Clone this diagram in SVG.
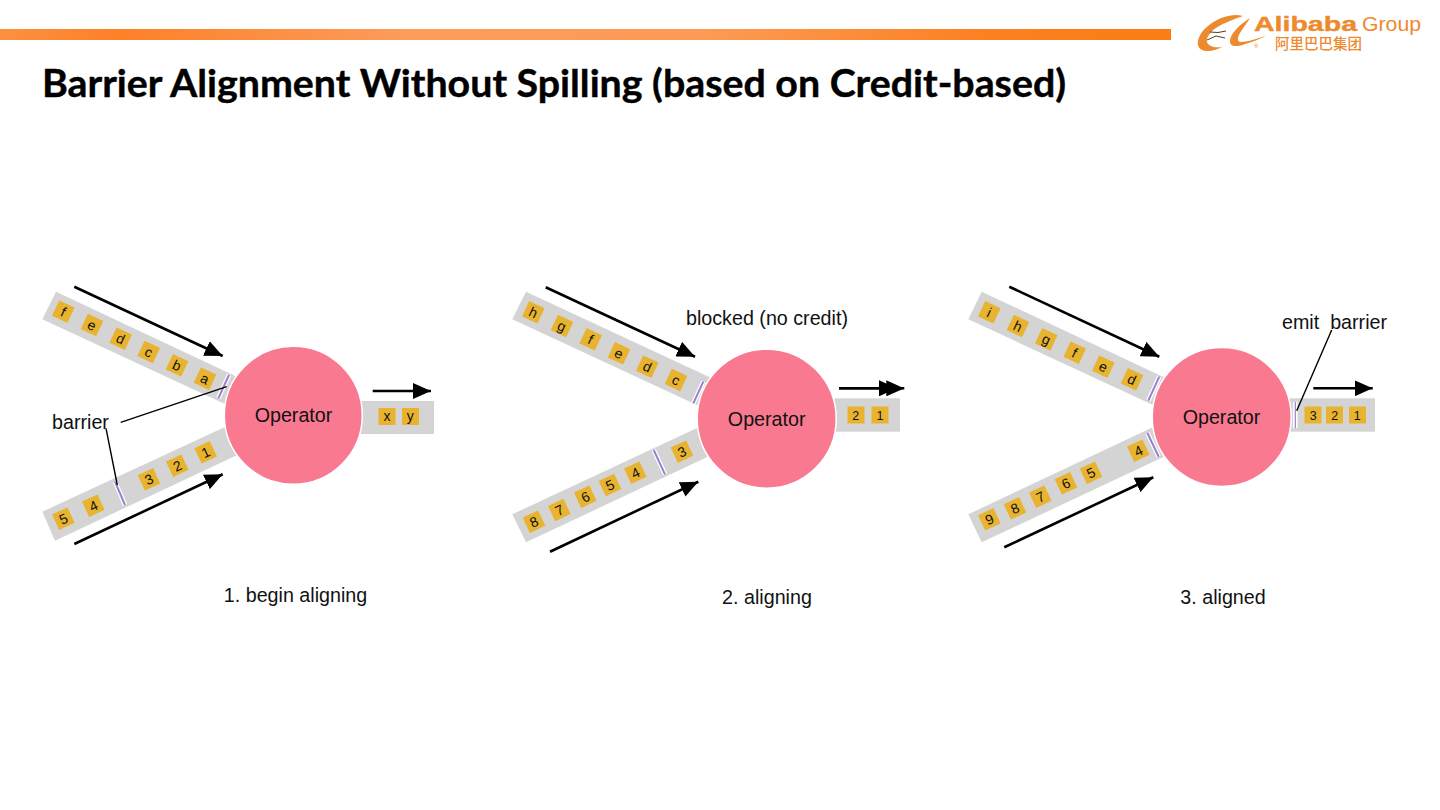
<svg xmlns="http://www.w3.org/2000/svg" width="1440" height="810" viewBox="0 0 1440 810">
<style>
text{font-family:"Liberation Sans",Arial,sans-serif;fill:#111}
.lb{font-size:19.7px}
.it{font-size:14px;text-anchor:middle}
.sm{font-size:12.5px;text-anchor:middle}
.band{fill:#d4d4d4}
.sq{fill:#e8b32f}
.op{fill:#f97a90;stroke:#fff;stroke-width:1.5}
.ha{stroke:#fff;stroke-width:4.5;fill:none}
.ba{stroke:#9a7fd0;stroke-width:2;fill:none}
.ar{stroke:#000;stroke-width:2.6;fill:none;marker-end:url(#h)}
.ln{stroke:#000;stroke-width:1.4;fill:none}
.lo{fill:#ee8a2e}
.lt{fill:#ee8a2e}
</style>
<defs>
<marker id="h" markerUnits="userSpaceOnUse" markerWidth="18" markerHeight="16" refX="18" refY="8" orient="auto"><path d="M0 0L18 8L0 16z" fill="#000"/></marker>
<linearGradient id="bar" x1="0" x2="1" y1="0" y2="0"><stop offset="0" stop-color="#fd9040"/><stop offset=".1" stop-color="#fc8128"/><stop offset=".35" stop-color="#fd9c5c"/><stop offset=".6" stop-color="#fd9a55"/><stop offset=".85" stop-color="#fb8020"/><stop offset="1" stop-color="#fb7e14"/></linearGradient>
</defs>
<rect id="topbar" x="0" y="29" width="1171" height="11" fill="url(#bar)"/>
<g id="logo">
<path class="lo" d="M1243 16C1228 12 1210 22 1202 32C1195 42 1197 50 1206 51C1212 51.500 1218 49 1222 47C1214 48 1208 46 1207 42C1206 38 1209 35 1212 31C1220 24 1232 20 1243 16Z"/>
<path class="lo" d="M1250 18C1240 24 1230 34 1230 41C1230 47 1236 47 1244 44.500C1252 42 1260 39 1266 36C1256 39 1246 42 1241 42C1237 42 1237 38 1240 33C1243 28 1247 23 1250 18Z"/>
<path d="M1210 32L1218 32.500L1226 31M1207 40L1216 36L1225 38" fill="none" stroke="#5a3a1c" stroke-width="1"/>
<text class="lt" x="1254" y="31" font-size="21" font-weight="700" textLength="103" lengthAdjust="spacingAndGlyphs" stroke="#ee8a2e" stroke-width=".4">Alibaba</text>
<text class="lt" x="1362" y="31" font-size="20" textLength="59" lengthAdjust="spacingAndGlyphs">Group</text>
<text class="lt" x="1254" y="48" font-size="6">®</text>
<text class="lt" x="1275" y="49" font-size="14.500" style="font-family:'Noto Sans CJK SC',sans-serif" font-weight="500">阿里巴巴集团</text>
</g>
<text id="title" x="42" y="97" font-size="38" font-weight="700" textLength="1024" lengthAdjust="spacingAndGlyphs" stroke="#000" stroke-width=".4" style="font-family:Lato,'Open Sans',sans-serif;fill:#000">Barrier Alignment Without Spilling (based on Credit-based)</text>

<g id="panel1">
<polygon class="band" points="56,291.700 42.300,319.300 240,411 248,382"/>
<polygon class="band" points="42.300,511.700 55,540.700 250,449 240,420"/>
<rect class="band" x="350" y="401" width="84" height="33"/>
<g id="op1"><circle class="op" cx="293.300" cy="415.300" r="69"/><text class="lb" x="293.500" y="422" text-anchor="middle">Operator</text></g>
<g id="items1a">
<g transform="translate(63.300 311.700) rotate(25)"><rect class="sq" x="-8.500" y="-8.500" width="17" height="17"/><text class="it" y="5">f</text></g>
<g transform="translate(92 325) rotate(25)"><rect class="sq" x="-8.500" y="-8.500" width="17" height="17"/><text class="it" y="5">e</text></g>
<g transform="translate(120.700 338.700) rotate(25)"><rect class="sq" x="-8.500" y="-8.500" width="17" height="17"/><text class="it" y="5">d</text></g>
<g transform="translate(148.700 352) rotate(25)"><rect class="sq" x="-8.500" y="-8.500" width="17" height="17"/><text class="it" y="5">c</text></g>
<g transform="translate(177 365.300) rotate(25)"><rect class="sq" x="-8.500" y="-8.500" width="17" height="17"/><text class="it" y="5">b</text></g>
<g transform="translate(205 378.700) rotate(25)"><rect class="sq" x="-8.500" y="-8.500" width="17" height="17"/><text class="it" y="5">a</text></g>
</g>
<g id="items1b">
<g transform="translate(63.300 518.700) rotate(-25)"><rect class="sq" x="-8.500" y="-8.500" width="17" height="17"/><text class="it" y="5">5</text></g>
<g transform="translate(93.300 505.700) rotate(-25)"><rect class="sq" x="-8.500" y="-8.500" width="17" height="17"/><text class="it" y="5">4</text></g>
<g transform="translate(149 479.300) rotate(-25)"><rect class="sq" x="-8.500" y="-8.500" width="17" height="17"/><text class="it" y="5">3</text></g>
<g transform="translate(177.300 465.700) rotate(-25)"><rect class="sq" x="-8.500" y="-8.500" width="17" height="17"/><text class="it" y="5">2</text></g>
<g transform="translate(205.700 452.300) rotate(-25)"><rect class="sq" x="-8.500" y="-8.500" width="17" height="17"/><text class="it" y="5">1</text></g>
</g>
<g id="items1c">
<rect class="sq" x="378.500" y="408" width="17" height="17"/><text class="it" x="387" y="421">x</text>
<rect class="sq" x="402" y="408" width="17" height="17"/><text class="it" x="410.300" y="421">y</text>
</g>
<text class="lb" x="52" y="429">barrier</text>
<text class="lb" x="295.500" y="602" text-anchor="middle">1. begin aligning</text>
</g>

<g id="panel2">
<polygon class="band" points="526,291.700 512.300,319.300 712,412 720,382"/>
<polygon class="band" points="512.300,514.300 526,542.300 720,451 712,421"/>
<rect class="band" x="825" y="398.300" width="75" height="33.400"/>
<g id="op2"><circle class="op" cx="766.700" cy="418.700" r="69.500"/><text class="lb" x="766.700" y="425.500" text-anchor="middle">Operator</text></g>
<g id="items2a">
<g transform="translate(533.300 312.300) rotate(25)"><rect class="sq" x="-8.500" y="-8.500" width="17" height="17"/><text class="it" y="5">h</text></g>
<g transform="translate(562 326) rotate(25)"><rect class="sq" x="-8.500" y="-8.500" width="17" height="17"/><text class="it" y="5">g</text></g>
<g transform="translate(590.700 339.300) rotate(25)"><rect class="sq" x="-8.500" y="-8.500" width="17" height="17"/><text class="it" y="5">f</text></g>
<g transform="translate(619 353.300) rotate(25)"><rect class="sq" x="-8.500" y="-8.500" width="17" height="17"/><text class="it" y="5">e</text></g>
<g transform="translate(647.300 366.700) rotate(25)"><rect class="sq" x="-8.500" y="-8.500" width="17" height="17"/><text class="it" y="5">d</text></g>
<g transform="translate(676 380) rotate(25)"><rect class="sq" x="-8.500" y="-8.500" width="17" height="17"/><text class="it" y="5">c</text></g>
</g>
<g id="items2b">
<g transform="translate(534 521.700) rotate(-25)"><rect class="sq" x="-8.500" y="-8.500" width="17" height="17"/><text class="it" y="5">8</text></g>
<g transform="translate(559.300 510) rotate(-25)"><rect class="sq" x="-8.500" y="-8.500" width="17" height="17"/><text class="it" y="5">7</text></g>
<g transform="translate(585.300 496.700) rotate(-25)"><rect class="sq" x="-8.500" y="-8.500" width="17" height="17"/><text class="it" y="5">6</text></g>
<g transform="translate(610 485) rotate(-25)"><rect class="sq" x="-8.500" y="-8.500" width="17" height="17"/><text class="it" y="5">5</text></g>
<g transform="translate(635.300 472.700) rotate(-25)"><rect class="sq" x="-8.500" y="-8.500" width="17" height="17"/><text class="it" y="5">4</text></g>
<g transform="translate(682 451.700) rotate(-25)"><rect class="sq" x="-8.500" y="-8.500" width="17" height="17"/><text class="it" y="5">3</text></g>
</g>
<g id="items2c">
<rect class="sq" x="847.500" y="406.500" width="17" height="17"/><text class="sm" x="855.700" y="419.500">2</text>
<rect class="sq" x="871.500" y="406.500" width="17" height="17"/><text class="sm" x="880" y="419.500">1</text>
</g>
<text class="lb" x="686" y="325">blocked (no credit)</text>
<text class="lb" x="767" y="604" text-anchor="middle">2. aligning</text>
</g>

<g id="panel3">
<polygon class="band" points="981.700,291.700 968.300,319.300 1166,411 1174,382"/>
<polygon class="band" points="968.300,514.300 981.700,542.300 1174,452 1166,421"/>
<rect class="band" x="1280" y="398.300" width="95" height="33.400"/>
<g id="op3"><circle class="op" cx="1221.700" cy="417" r="69.500"/><text class="lb" x="1221.500" y="424" text-anchor="middle">Operator</text></g>
<g id="items3a">
<g transform="translate(989.300 312.300) rotate(25)"><rect class="sq" x="-8.500" y="-8.500" width="17" height="17"/><text class="it" y="5">i</text></g>
<g transform="translate(1018 326) rotate(25)"><rect class="sq" x="-8.500" y="-8.500" width="17" height="17"/><text class="it" y="5">h</text></g>
<g transform="translate(1046.300 339.300) rotate(25)"><rect class="sq" x="-8.500" y="-8.500" width="17" height="17"/><text class="it" y="5">g</text></g>
<g transform="translate(1074.700 352.700) rotate(25)"><rect class="sq" x="-8.500" y="-8.500" width="17" height="17"/><text class="it" y="5">f</text></g>
<g transform="translate(1103.300 366.700) rotate(25)"><rect class="sq" x="-8.500" y="-8.500" width="17" height="17"/><text class="it" y="5">e</text></g>
<g transform="translate(1132 379.300) rotate(25)"><rect class="sq" x="-8.500" y="-8.500" width="17" height="17"/><text class="it" y="5">d</text></g>
</g>
<g id="items3b">
<g transform="translate(989.300 519.300) rotate(-25)"><rect class="sq" x="-8.500" y="-8.500" width="17" height="17"/><text class="it" y="5">9</text></g>
<g transform="translate(1015 508.300) rotate(-25)"><rect class="sq" x="-8.500" y="-8.500" width="17" height="17"/><text class="it" y="5">8</text></g>
<g transform="translate(1040.300 496.700) rotate(-25)"><rect class="sq" x="-8.500" y="-8.500" width="17" height="17"/><text class="it" y="5">7</text></g>
<g transform="translate(1066 483.300) rotate(-25)"><rect class="sq" x="-8.500" y="-8.500" width="17" height="17"/><text class="it" y="5">6</text></g>
<g transform="translate(1091 472.700) rotate(-25)"><rect class="sq" x="-8.500" y="-8.500" width="17" height="17"/><text class="it" y="5">5</text></g>
<g transform="translate(1138.300 450.700) rotate(-25)"><rect class="sq" x="-8.500" y="-8.500" width="17" height="17"/><text class="it" y="5">4</text></g>
</g>
<g id="items3c">
<rect class="sq" x="1304.500" y="406.500" width="17" height="17"/><text class="sm" x="1313.300" y="419.500">3</text>
<rect class="sq" x="1326" y="406.500" width="17" height="17"/><text class="sm" x="1334.700" y="419.500">2</text>
<rect class="sq" x="1349" y="406.500" width="17" height="17"/><text class="sm" x="1357.300" y="419.500">1</text>
</g>
<text class="lb" x="1282" y="328.500" xml:space="preserve">emit  barrier</text>
<text class="lb" x="1223" y="604" text-anchor="middle">3. aligned</text>
</g>

<g id="connectors">
<path class="ha" d="M229 375L218.300 398.300M115 481.700L125 505M703.300 381.700L693.300 403.300M653.700 450L665 474.300M1159.300 376.700L1148.300 400.700M1147.300 432.700L1158.700 456.700M1295.300 401.700V428.300"/>
<path class="ba" d="M229 375L218.300 398.300M115 481.700L125 505M703.300 381.700L693.300 403.300M653.700 450L665 474.300M1159.300 376.700L1148.300 400.700M1147.300 432.700L1158.700 456.700"/>
<path class="ba" style="stroke-width:1.200" d="M1295.300 401.700V428.300"/>
<path class="ar" d="M74.300 286.700L222.700 356"/>
<path class="ar" d="M74.300 544L222.700 474.300"/>
<path class="ar" d="M372.700 391H431"/>
<path class="ar" d="M545.700 287.300L695 356.700"/>
<path class="ar" d="M550 551.700L698.300 481.700"/>
<path class="ar" d="M839 388.300H897"/>
<path class="ar" d="M839 388.300H904.300"/>
<path class="ar" d="M1009.300 286.700L1159.300 356.700"/>
<path class="ar" d="M1004.300 547.300L1153.300 477.300"/>
<path class="ar" d="M1313.300 388.300H1372.700"/>
<path class="ln" d="M120.700 422.300L226.700 386.700M106 428.300L117.300 485M1331.700 330L1296.700 410.700"/>
</g>
</svg>
